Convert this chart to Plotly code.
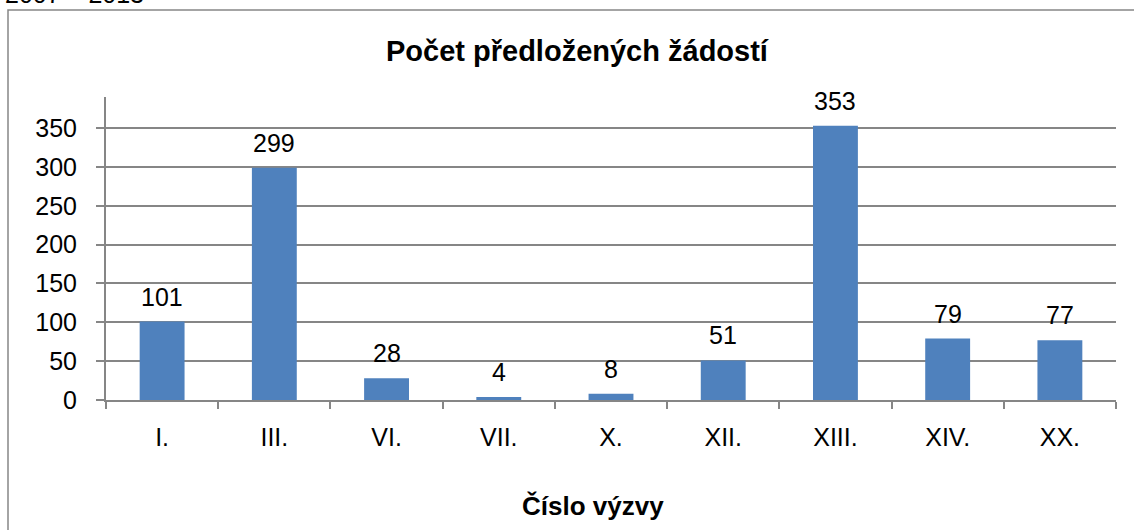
import plotly.graph_objects as go

categories = ["I.", "III.", "VI.", "VII.", "X.", "XII.", "XIII.", "XIV.", "XX."]
values = [101, 299, 28, 4, 8, 51, 353, 79, 77]
y_ticks = [0, 50, 100, 150, 200, 250, 300, 350]

title_text = "Počet předložených žádostí"
x_title = "Číslo výzvy"
top_text = "2007 – 2013"

W, H = 1134, 530
# plot area in screen pixels
PX0, PX1, PY0, PY1 = 106, 1116, 97, 400
L, R, T, B = PX0, W - PX1, PY0, H - PY1
FONT = "Liberation Sans, Arial, sans-serif"
GRID = "#868686"
FS = 25

pw, ph = PX1 - PX0, PY1 - PY0
fx = lambda sx: (sx - PX0) / pw          # screen x -> paper x
fy = lambda sy: (PY1 - sy) / ph          # screen y -> paper y

fig = go.Figure()
fig.add_trace(go.Bar(
    x=categories, y=values,
    marker=dict(color="#4F81BD", line=dict(width=0)),
    hoverinfo="x+y",
))

for c, v in zip(categories, values):
    fig.add_annotation(x=c, y=v, text=str(v), showarrow=False,
                       yanchor="middle", yshift=25,
                       font=dict(family=FONT, size=FS, color="#000000"))

# outer chart frame
fig.add_shape(type="rect", xref="paper", yref="paper",
              x0=fx(8), y0=fy(580), x1=fx(1170), y1=fy(10),
              line=dict(color=GRID, width=1.5), fillcolor="rgba(0,0,0,0)", layer="below")

fig.add_annotation(xref="paper", yref="paper", x=fx(577), y=fy(51), text="<b>" + title_text + "</b>",
                   showarrow=False, xanchor="center", yanchor="middle",
                   font=dict(family=FONT, size=29, color="#000000"))
fig.add_annotation(xref="paper", yref="paper", x=fx(593), y=fy(506), text="<b>" + x_title + "</b>",
                   showarrow=False, xanchor="center", yanchor="middle",
                   font=dict(family=FONT, size=26, color="#000000"))
fig.add_annotation(xref="paper", yref="paper", x=fx(3), y=fy(-6), text=top_text,
                   showarrow=False, xanchor="left", yanchor="middle",
                   font=dict(family=FONT, size=FS, color="#000000"))

fig.update_layout(
    width=W, height=H,
    margin=dict(l=L, r=R, t=T, b=B, autoexpand=False),
    paper_bgcolor="white", plot_bgcolor="white",
    bargap=0.6, showlegend=False,
    font=dict(family=FONT, size=FS, color="#000000"),
)
fig.update_xaxes(
    type="category", showline=True, linecolor=GRID, linewidth=2,
    ticks="outside", tickson="boundaries", ticklen=7, tickcolor=GRID, tickwidth=2,
    ticklabelstandoff=14,
    tickfont=dict(family=FONT, size=FS, color="#000000"),
    showgrid=False,
)
fig.update_yaxes(
    range=[0, 390], tickvals=y_ticks, showline=True, linecolor=GRID, linewidth=2,
    ticks="outside", ticklen=8, tickcolor=GRID, tickwidth=2,
    ticklabelstandoff=14,
    showgrid=True, gridcolor=GRID, gridwidth=2, zeroline=False,
    tickfont=dict(family=FONT, size=FS, color="#000000"),
)

fig.write_html(
    "out.html",
    config={"displayModeBar": False},
    post_script="document.body.style.margin='0';document.body.style.overflow='hidden';",
)
